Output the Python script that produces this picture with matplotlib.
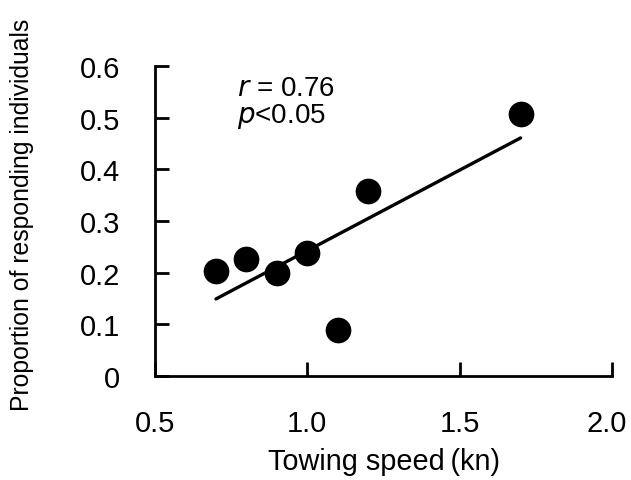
import numpy as np
import matplotlib
matplotlib.use("Agg")
import matplotlib.pyplot as plt
import matplotlib.transforms as mtransforms

plt.rcParams['font.family'] = ['Liberation Sans', 'DejaVu Sans']

speed = [0.7, 0.8, 0.9, 1.0, 1.1, 1.2, 1.7]
proportion = [0.204, 0.226, 0.200, 0.239, 0.089, 0.358, 0.507]
xticks = [0.5, 1.0, 1.5, 2.0]
xticklabels = ["0.5", "1.0", "1.5", "2.0"]
yticks = [0, 0.1, 0.2, 0.3, 0.4, 0.5, 0.6]
yticklabels = ["0", "0.1", "0.2", "0.3", "0.4", "0.5", "0.6"]

fig = plt.figure(figsize=(6.31, 4.81), dpi=100)
ax = fig.add_axes([155/631, 1 - 377/481, (612-155)/631, (377-67)/481])

x = np.array(speed)
y = np.array(proportion)
slope, intercept = np.polyfit(x, y, 1)
xl = np.array([x.min(), x.max()])
ax.plot(xl, slope*xl + intercept, color='black', lw=2.4, zorder=2,
        solid_capstyle='round')
ax.plot(x, y, 'o', color='black', markersize=17.5, zorder=3)

ax.set_xlim(0.5, 2.0)
ax.set_ylim(0, 0.6)
ax.set_xticks(xticks)
ax.set_xticklabels(xticklabels)
ax.set_yticks(yticks)
ax.set_yticklabels(yticklabels)
for s in ['top', 'right']:
    ax.spines[s].set_visible(False)
for s in ['left', 'bottom']:
    ax.spines[s].set_linewidth(2)
ax.tick_params(direction='in', length=10, width=2, labelsize=21)
ax.tick_params(axis='y', pad=25)
ax.tick_params(axis='x', pad=24)
# keep the last x tick label inside the figure, as in the reference
last = ax.get_xticklabels()[-1]
last.set_transform(last.get_transform() +
                   mtransforms.ScaledTranslation(-5/100, 0, fig.dpi_scale_trans))

ax.set_xlabel("Towing speed\u2009(kn)", fontsize=20.8)
ax.xaxis.set_label_coords(0.5, -0.228)
ax.set_ylabel("Proportion of responding individuals", fontsize=17.8)
ax.yaxis.set_label_coords(-0.265, 0.523)

ax.text(0.179, 0.928, r"$r$ = 0.76", transform=ax.transAxes, fontsize=20,
        va='center')
ax.text(0.179, 0.840, r"$p$<0.05", transform=ax.transAxes, fontsize=20,
        va='center')

fig.savefig("out.png", dpi=100)
